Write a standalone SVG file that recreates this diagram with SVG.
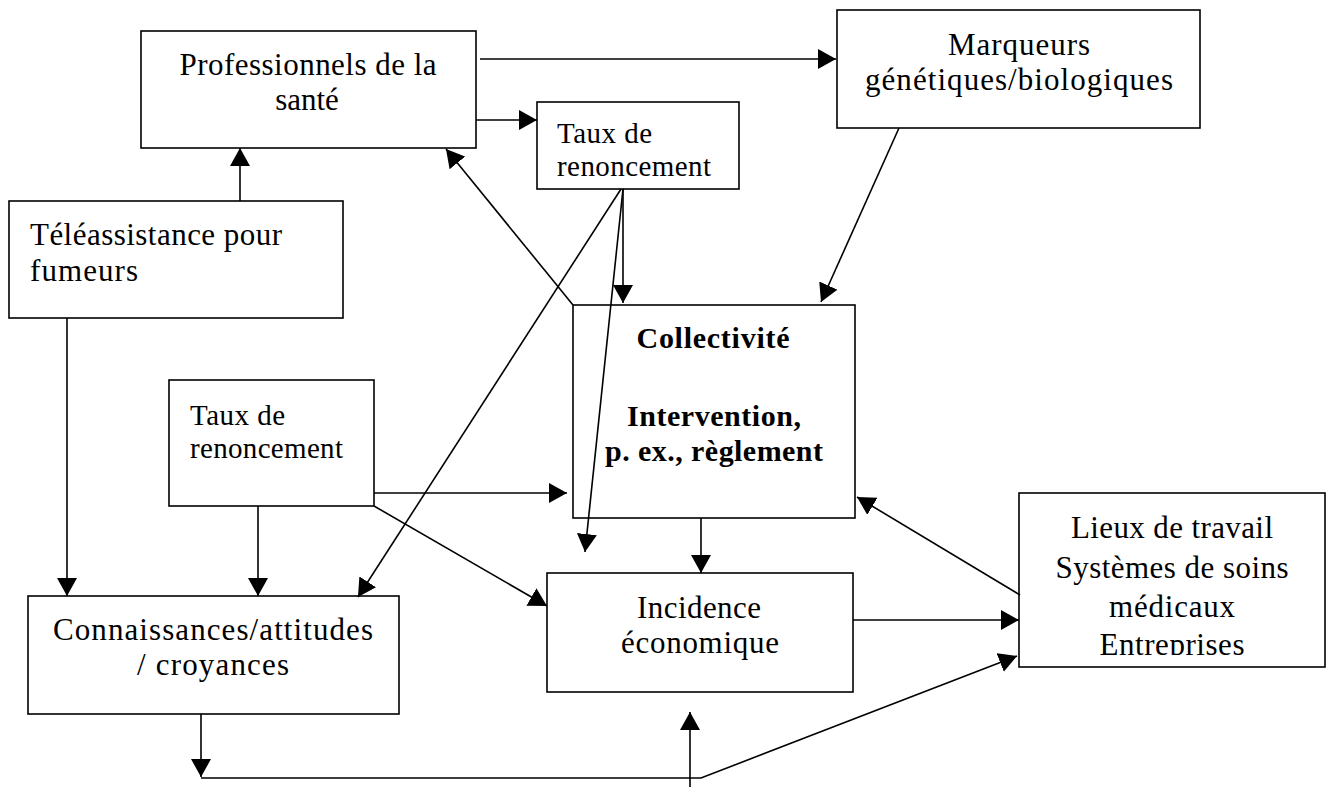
<svg xmlns="http://www.w3.org/2000/svg" width="1327" height="787" viewBox="0 0 1327 787">
<style>
.box{fill:#fff;stroke:#000;stroke-width:1.6}
.t{font-family:"Liberation Serif","Times New Roman",serif;font-size:31px;fill:#000}
.s{font-size:29px}
.c{text-anchor:middle}
.b{font-weight:bold;font-size:30px}
.ln{fill:none;stroke:#000;stroke-width:1.6}
</style>
<defs>
<marker id="ah" markerUnits="userSpaceOnUse" markerWidth="20" markerHeight="20" refX="18" refY="10" orient="auto">
<path d="M0,0 L18,10 L0,20 z" fill="#000"/>
</marker>
<clipPath id="lieuxClip"><rect x="1019" y="493" width="306" height="162"/></clipPath>
</defs>
<rect width="1327" height="787" fill="#fff"/>

<g id="n-prof">
<rect class="box" x="141" y="31" width="335" height="117"/>
<text class="t c" x="308" y="75" textLength="257" lengthAdjust="spacing">Professionnels de la</text>
<text class="t c" x="307" y="110">santé</text>
</g>
<g id="n-taux1">
<rect class="box" x="537" y="102" width="202" height="87"/>
<text class="t s" x="557" y="143" textLength="95" lengthAdjust="spacing">Taux de</text>
<text class="t s" x="557" y="176" textLength="154" lengthAdjust="spacing">renoncement</text>
</g>
<g id="n-marq">
<rect class="box" x="837" y="10" width="363" height="118"/>
<text class="t c" x="1019" y="55" textLength="142" lengthAdjust="spacing">Marqueurs</text>
<text class="t c" x="1019" y="90" textLength="308" lengthAdjust="spacing">génétiques/biologiques</text>
</g>
<g id="n-tele">
<rect class="box" x="9" y="201" width="334" height="117"/>
<text class="t" x="30" y="245" textLength="252" lengthAdjust="spacing">Téléassistance pour</text>
<text class="t" x="30" y="281" textLength="108" lengthAdjust="spacing">fumeurs</text>
</g>
<g id="n-taux2">
<rect class="box" x="169" y="380" width="205" height="126"/>
<text class="t s" x="190" y="425" textLength="95" lengthAdjust="spacing">Taux de</text>
<text class="t s" x="190" y="458" textLength="153" lengthAdjust="spacing">renoncement</text>
</g>
<g id="n-coll">
<rect class="box" x="573" y="305" width="282" height="213"/>
<text class="t c b" x="713" y="348" textLength="153" lengthAdjust="spacing">Collectivité</text>
<text class="t c b" x="714" y="426" textLength="174" lengthAdjust="spacing">Intervention,</text>
<text class="t c b" x="714" y="461" textLength="218" lengthAdjust="spacing">p. ex., règlement</text>
</g>
<g id="n-conn">
<rect class="box" x="28" y="596" width="371" height="118"/>
<text class="t c" x="213" y="640" textLength="320" lengthAdjust="spacing">Connaissances/attitudes</text>
<text class="t c" x="213" y="675" textLength="152" lengthAdjust="spacing">/ croyances</text>
</g>
<g id="n-inc">
<rect class="box" x="547" y="573" width="306" height="119"/>
<text class="t c" x="699" y="618" textLength="124" lengthAdjust="spacing">Incidence</text>
<text class="t c" x="700" y="653" textLength="158" lengthAdjust="spacing">économique</text>
</g>
<g id="n-lieux">
<rect class="box" x="1019" y="493" width="306" height="174"/>
<g clip-path="url(#lieuxClip)">
<text class="t c" x="1172" y="538" textLength="202" lengthAdjust="spacing">Lieux de travail</text>
<text class="t c" x="1172" y="578" textLength="233" lengthAdjust="spacing">Systèmes de soins</text>
<text class="t c" x="1172" y="617" textLength="126" lengthAdjust="spacing">médicaux</text>
<text class="t c" x="1172" y="655" textLength="145" lengthAdjust="spacing">Entreprises</text>
</g>
</g>

<g id="connectors">
<line class="ln" x1="480" y1="59" x2="836" y2="59" marker-end="url(#ah)"/>
<line class="ln" x1="476" y1="120" x2="537" y2="120" marker-end="url(#ah)"/>
<line class="ln" x1="240" y1="201" x2="240" y2="148" marker-end="url(#ah)"/>
<line class="ln" x1="573" y1="305" x2="446" y2="149" marker-end="url(#ah)"/>
<line class="ln" x1="623" y1="189" x2="623" y2="303" marker-end="url(#ah)"/>
<line class="ln" x1="623" y1="189" x2="585" y2="552" marker-end="url(#ah)"/>
<line class="ln" x1="621" y1="189" x2="358" y2="597" marker-end="url(#ah)"/>
<line class="ln" x1="899" y1="128" x2="821" y2="302" marker-end="url(#ah)"/>
<line class="ln" x1="67" y1="318" x2="67" y2="596" marker-end="url(#ah)"/>
<line class="ln" x1="374" y1="493" x2="567" y2="493" marker-end="url(#ah)"/>
<line class="ln" x1="258" y1="506" x2="258" y2="596" marker-end="url(#ah)"/>
<line class="ln" x1="374" y1="506" x2="547" y2="606" marker-end="url(#ah)"/>
<line class="ln" x1="701" y1="518" x2="701" y2="573" marker-end="url(#ah)"/>
<line class="ln" x1="853" y1="620" x2="1019" y2="620" marker-end="url(#ah)"/>
<line class="ln" x1="1020" y1="595" x2="857" y2="497" marker-end="url(#ah)"/>
<line class="ln" x1="201" y1="714" x2="201" y2="777" marker-end="url(#ah)"/>
<polyline class="ln" points="201,778 701,778 1017,656" marker-end="url(#ah)"/>
<line class="ln" x1="690" y1="787" x2="690" y2="712" marker-end="url(#ah)"/>
</g>
</svg>
